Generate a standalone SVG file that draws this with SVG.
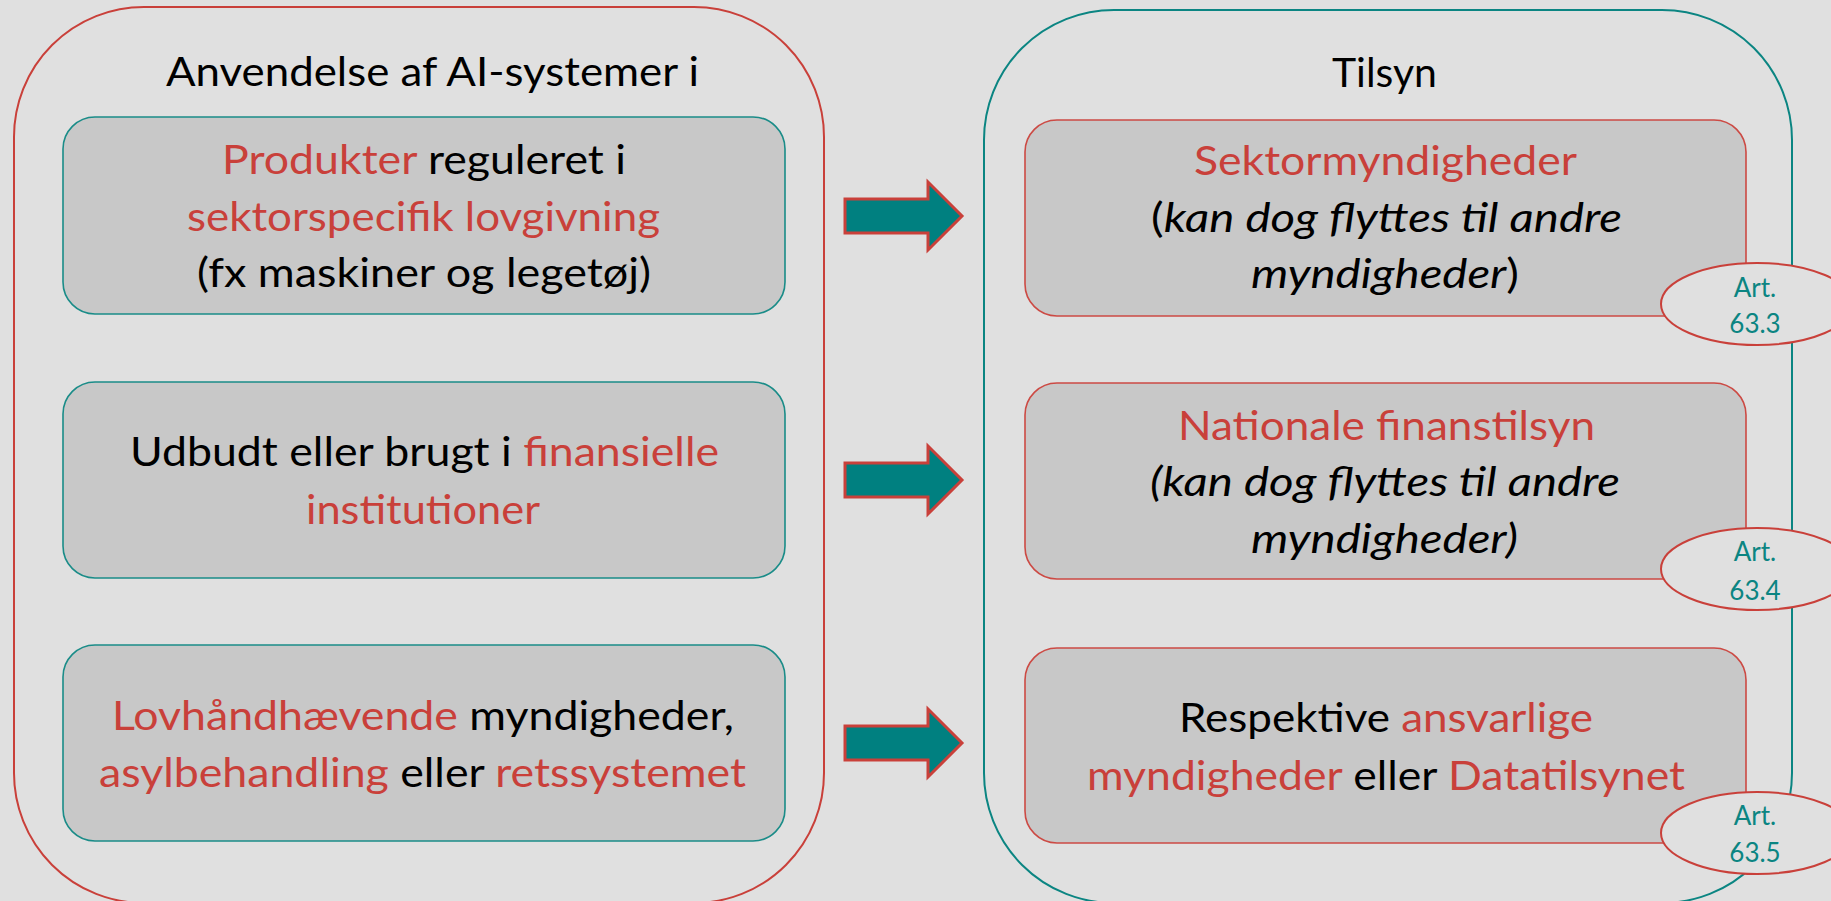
<svg xmlns="http://www.w3.org/2000/svg" width="1831" height="901" viewBox="0 0 1831 901">
<defs>
<style>
.bg{fill:#e0e0e0}
.cont-red{fill:none;stroke:#c9403a;stroke-width:2}
.cont-teal{fill:none;stroke:#0b8582;stroke-width:2}
.box-teal{fill:#c8c8c8;stroke:#1a8c88;stroke-width:1.6}
.box-red{fill:#c8c8c8;stroke:#cc4a44;stroke-width:1.6}
.ell{fill:#e0e0e0;stroke:#c9403a;stroke-width:2}
.arrow{fill:#008080;stroke:#c9403a;stroke-width:3;stroke-linejoin:miter}
text{font-family:Lato,"Liberation Sans",sans-serif;font-size:40px;fill:#000}
.r{fill:#c9403a}
.i{font-style:italic}
.art{font-size:26px;fill:#0b8582;text-anchor:middle}
</style>
</defs>
<rect class="bg" x="0" y="0" width="1831" height="901"/>

<g id="left-container">
<rect class="cont-red" x="14" y="7" width="810" height="896" rx="130" ry="130"/>
<text x="166" y="86" textLength="533" lengthAdjust="spacingAndGlyphs">Anvendelse af AI-systemer i</text>
</g>

<g id="right-container">
<rect class="cont-teal" x="984" y="10" width="808" height="893" rx="130" ry="130"/>
<text x="1332" y="87" textLength="105" lengthAdjust="spacingAndGlyphs">Tilsyn</text>
</g>

<g id="left-box-1">
<rect class="box-teal" x="63" y="117" width="722" height="197" rx="32" ry="32"/>
<text x="222" y="174" textLength="404" lengthAdjust="spacingAndGlyphs"><tspan class="r">Produkter</tspan> reguleret i</text>
<text class="r" x="187" y="231" textLength="473" lengthAdjust="spacingAndGlyphs">sektorspecifik lovgivning</text>
<text x="197" y="287" textLength="454" lengthAdjust="spacingAndGlyphs">(fx maskiner og legetøj)</text>
</g>

<g id="left-box-2">
<rect class="box-teal" x="63" y="382" width="722" height="196" rx="32" ry="32"/>
<text x="130" y="466" textLength="589" lengthAdjust="spacingAndGlyphs">Udbudt eller brugt i <tspan class="r">finansielle</tspan></text>
<text class="r" x="306" y="524" textLength="234" lengthAdjust="spacingAndGlyphs">institutioner</text>
</g>

<g id="left-box-3">
<rect class="box-teal" x="63" y="645" width="722" height="196" rx="32" ry="32"/>
<text x="112" y="730" textLength="622" lengthAdjust="spacingAndGlyphs"><tspan class="r">Lovhåndhævende</tspan> myndigheder,</text>
<text x="99" y="787" textLength="647" lengthAdjust="spacingAndGlyphs"><tspan class="r">asylbehandling</tspan> eller <tspan class="r">retssystemet</tspan></text>
</g>

<g id="right-box-1">
<rect class="box-red" x="1025" y="120" width="721" height="196" rx="32" ry="32"/>
<text class="r" x="1194" y="175" textLength="383" lengthAdjust="spacingAndGlyphs">Sektormyndigheder</text>
<text x="1151" y="232" textLength="471" lengthAdjust="spacingAndGlyphs">(<tspan class="i">kan dog flyttes til andre</tspan></text>
<text x="1251" y="288" textLength="268" lengthAdjust="spacingAndGlyphs"><tspan class="i">myndigheder</tspan>)</text>
</g>

<g id="right-box-2">
<rect class="box-red" x="1025" y="383" width="721" height="196" rx="32" ry="32"/>
<text class="r" x="1178" y="440" textLength="417" lengthAdjust="spacingAndGlyphs">Nationale finanstilsyn</text>
<text class="i" x="1150" y="496" textLength="470" lengthAdjust="spacingAndGlyphs">(kan dog flyttes til andre</text>
<text class="i" x="1251" y="553" textLength="267" lengthAdjust="spacingAndGlyphs">myndigheder)</text>
</g>

<g id="right-box-3">
<rect class="box-red" x="1025" y="648" width="721" height="195" rx="32" ry="32"/>
<text x="1179" y="732" textLength="414" lengthAdjust="spacingAndGlyphs">Respektive <tspan class="r">ansvarlige</tspan></text>
<text x="1087" y="790" textLength="598" lengthAdjust="spacingAndGlyphs"><tspan class="r">myndigheder</tspan> eller <tspan class="r">Datatilsynet</tspan></text>
</g>

<g id="art-63-3">
<ellipse class="ell" cx="1757" cy="304" rx="96" ry="41"/>
<text class="art" x="1755" y="297">Art.</text>
<text class="art" x="1755" y="333">63.3</text>
</g>
<g id="art-63-4">
<ellipse class="ell" cx="1757" cy="569" rx="96" ry="41"/>
<text class="art" x="1755" y="561">Art.</text>
<text class="art" x="1755" y="600">63.4</text>
</g>
<g id="art-63-5">
<ellipse class="ell" cx="1757" cy="833" rx="96" ry="41"/>
<text class="art" x="1755" y="825">Art.</text>
<text class="art" x="1755" y="862">63.5</text>
</g>

<g id="connectors">
<path class="arrow" d="M845,199 H928 V182 L962,216 L928,250 V233 H845 Z"/>
<path class="arrow" d="M845,463 H928 V446 L962,480 L928,514 V497 H845 Z"/>
<path class="arrow" d="M845,726 H928 V709 L962,743 L928,777 V760 H845 Z"/>
</g>
</svg>
